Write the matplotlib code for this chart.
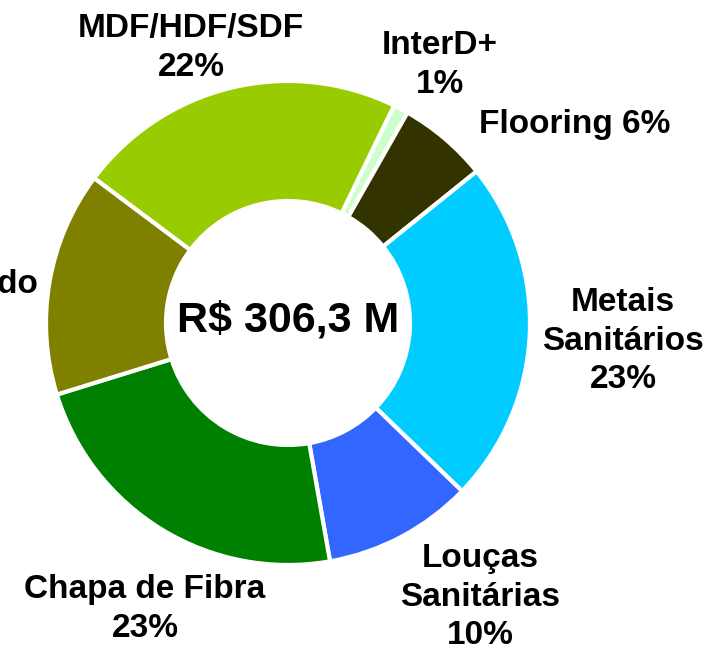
import matplotlib
matplotlib.use("Agg")
import matplotlib.pyplot as plt

categories = ["InterD+", "Flooring", "Metais\nSanitários", "Louças\nSanitárias",
              "Chapa de Fibra", "Aglomerado", "MDF/HDF/SDF"]
shares = [1, 6, 23, 10, 23, 15, 22]
labels = ["InterD+\n1%", "Flooring 6%", "Metais\nSanitários\n23%", "Louças\nSanitárias\n10%",
          "Chapa de Fibra\n23%", "Aglomerado\n15%", "MDF/HDF/SDF\n22%"]
colors = ["#CCFFCC", "#333300", "#00CCFF", "#3366FF", "#008000", "#808000", "#99CC00"]
center_text = "R$ 306,3 M"

W, H = 711, 651
fig = plt.figure(figsize=(W / 100, H / 100), dpi=100)
ax = fig.add_axes([0, 0, 1, 1])

cx, cy, R = 288, H - 323, 242
ax.pie(shares, colors=colors, startangle=64, counterclock=False,
       center=(cx, cy), radius=R, frame=True,
       wedgeprops=dict(width=120, edgecolor="white", linewidth=3))
ax.set_xlim(0, W)
ax.set_ylim(0, H)
ax.axis("off")

font = dict(family="Liberation Sans", fontweight="bold", fontsize=24, color="black",
            linespacing=1.3)
label_pos = [(440, 65), (575, 125), (623, 341), (480, 597), (145, 609), (-59, 304), (191, 48)]
for lab, (x, y) in zip(labels, label_pos):
    ax.text(x, H - y, lab, ha="center", va="center", clip_on=False, **font)

ax.text(cx, H - 320, center_text, ha="center", va="center",
        family="Liberation Sans", fontweight="bold", fontsize=31)

fig.savefig("out.png", dpi=100)
